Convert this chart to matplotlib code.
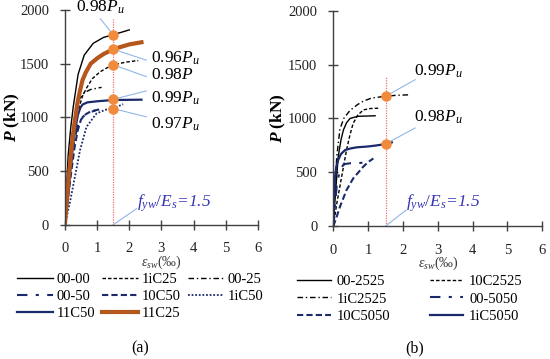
import matplotlib
matplotlib.use("Agg")
import matplotlib.pyplot as plt

plt.rcParams["font.family"] = ["Liberation Serif", "DejaVu Serif"]
plt.rcParams["mathtext.fontset"] = "custom"
plt.rcParams["mathtext.rm"] = "Liberation Serif"
plt.rcParams["mathtext.it"] = "Liberation Serif:italic"
plt.rcParams["mathtext.bf"] = "Liberation Serif:bold"
plt.rcParams["mathtext.bfit"] = "Liberation Serif:bold:italic"

# ---- panel (a) data: strain (per mille) vs load (kN) ----
x_0000 = [0, 0.05, 0.1, 0.18, 0.26, 0.41, 0.6, 0.88, 1.2, 1.5, 2.0]
p_0000 = [0, 330, 640, 900, 1100, 1400, 1580, 1690, 1745, 1770, 1815]

x_1iC25 = [0, 0.1, 0.2, 0.3, 0.41, 0.55, 0.67, 0.85, 1.09, 1.3, 1.5, 1.9, 2.28]
p_1iC25 = [0, 400, 700, 900, 1067, 1200, 1272, 1360, 1424, 1460, 1490, 1515, 1530]

x_0025 = [0, 0.1, 0.2, 0.3, 0.45, 0.6, 0.8, 1.14]
p_0025 = [0, 450, 800, 1000, 1170, 1230, 1260, 1280]

x_0050 = [0, 0.1, 0.2, 0.3, 0.4, 0.5, 0.7, 0.95]
p_0050 = [0, 300, 580, 800, 920, 990, 1040, 1065]

x_10C50 = [0, 0.1, 0.2, 0.3, 0.4, 0.5, 0.65, 0.8, 1.0, 1.1]
p_10C50 = [0, 250, 500, 720, 880, 980, 1030, 1055, 1070, 1075]

x_1iC50 = [0, 0.15, 0.31, 0.47, 0.67, 0.98, 1.25, 1.5, 1.81]
p_1iC50 = [0, 200, 445, 694, 911, 1036, 1070, 1085, 1123]

x_11C50 = [0, 0.1, 0.2, 0.3, 0.4, 0.48, 0.55, 0.7, 1.0, 1.5, 2.38]
p_11C50 = [0, 300, 600, 850, 1020, 1090, 1120, 1140, 1150, 1162, 1165]

x_11C25 = [0, 0.1, 0.2, 0.3, 0.4, 0.47, 0.55, 0.65, 0.8, 1.0, 1.2, 1.5, 2.0, 2.38]
p_11C25 = [0, 380, 700, 950, 1150, 1250, 1350, 1420, 1500, 1550, 1590, 1635, 1680, 1700]

marks_a = [1770, 1635, 1490, 1168, 1082]
labels_a = ["0.98$P_u$", "0.96$P_u$", "0.98$P$", "0.99$P_u$", "0.97$P_u$"]

# ---- panel (b) data ----
x_002525 = [0, 0.05, 0.14, 0.22, 0.29, 0.38, 0.48, 0.7, 1.2]
p_002525 = [0, 250, 645, 800, 893, 960, 1000, 1020, 1025]

x_10C2525 = [0, 0.1, 0.24, 0.38, 0.48, 0.57, 0.7, 0.86, 1.05, 1.29]
p_10C2525 = [0, 210, 460, 707, 850, 955, 1030, 1079, 1092, 1095]

x_1iC2525 = [0, 0.05, 0.1, 0.19, 0.3, 0.48, 0.7, 0.86, 1.1, 1.5, 1.8, 2.2]
p_1iC2525 = [0, 350, 650, 900, 1000, 1075, 1130, 1160, 1190, 1206, 1215, 1220]

x_005050 = [0, 0.05, 0.1, 0.19, 0.3, 0.5, 0.7, 0.86]
p_005050 = [0, 200, 380, 520, 575, 585, 585, 590]

x_10C5050 = [0, 0.1, 0.19, 0.38, 0.57, 0.86, 1.0, 1.15]
p_10C5050 = [0, 90, 180, 335, 443, 552, 595, 629]

x_1iC5050 = [0, 0.02, 0.05, 0.09, 0.14, 0.22, 0.34, 0.5, 0.67, 1.0, 1.2, 1.5, 1.68]
p_1iC5050 = [0, 250, 460, 560, 614, 670, 707, 722, 732, 740, 748, 762, 778]

marks_b = [1206, 764]
labels_b = ["0.99$P_u$", "0.98$P_u$"]

eps_y = 1.5

NAVY = "#1b2a6b"
BROWN = "#b5561d"
ORANGE = "#f28a3c"
LEAD = "#93b6e6"
AXC = "#404040"
TICK_FS = 10.5
LABEL_FS = 12.5
LEG_FS = 10.5


def style_axes(ax, ylab_x, xlab_y):
    ax.set_xlim(0, 6)
    ax.set_ylim(0, 2000)
    ax.set_xticks(range(0, 7))
    ax.set_yticks([0, 500, 1000, 1500, 2000])
    for s in ["top", "right"]:
        ax.spines[s].set_visible(False)
    for s in ["left", "bottom"]:
        ax.spines[s].set_color(AXC)
        ax.spines[s].set_linewidth(1.0)
    ax.tick_params(direction="inout", length=7, width=1, colors=AXC,
                   labelsize=TICK_FS, labelcolor="#222222")
    ax.tick_params(axis="x", pad=9)
    ax.tick_params(axis="y", pad=8)
    ax.set_ylabel(r"$\mathbfit{P}$ (kN)", fontsize=12.5, fontweight="bold")
    ax.yaxis.set_label_coords(ylab_x, 0.5)
    ax.set_xlabel(r"$\varepsilon_{sw}$(‰)", fontsize=10, color="#333333")
    ax.xaxis.set_label_coords(0.5, xlab_y)


def leader(ax, x0, y0, x1, y1):
    ax.plot([x0, x1], [y0, y1], color=LEAD, lw=0.8, clip_on=False, zorder=2)


fig = plt.figure(figsize=(5.5, 3.59), dpi=100)
ax1 = fig.add_axes([0.118, 0.374, 0.351, 0.598])
ax2 = fig.add_axes([0.606, 0.370, 0.380, 0.600])

# ---- (a) ----
h = {}
h["00-00"], = ax1.plot(x_0000, p_0000, color="black", lw=1.0)
h["1iC25"], = ax1.plot(x_1iC25, p_1iC25, color="black", lw=1.0, dashes=(2.5, 1.5))
h["00-25"], = ax1.plot(x_0025, p_0025, color="black", lw=1.0, dashes=(4, 2, 1, 2))
h["00-50"], = ax1.plot(x_0050, p_0050, color=NAVY, lw=1.5, dashes=(5, 4, 1.5, 4))
h["10C50"], = ax1.plot(x_10C50, p_10C50, color=NAVY, lw=1.5, dashes=(3, 1.5))
h["1iC50"], = ax1.plot(x_1iC50, p_1iC50, color=NAVY, lw=1.3, dashes=(1, 1))
h["11C50"], = ax1.plot(x_11C50, p_11C50, color=NAVY, lw=1.6)
h["11C25"], = ax1.plot(x_11C25, p_11C25, color=BROWN, lw=3.0)

ax1.plot([eps_y, eps_y], [0, 1920], color="#f07070", lw=0.9,
         dashes=(1, 1), zorder=1)
ax1.plot([eps_y] * len(marks_a), marks_a, "o", color=ORANGE, ms=6.5, zorder=5)

# callouts
leader(ax1, eps_y, marks_a[0], 1.1, 1920)
ax1.text(1.09, 2025, labels_a[0], ha="center", va="center", fontsize=LABEL_FS)
ends_a = [1533, 1380, 1247, 1005]
texts_a = [1550, 1393, 1182, 937]
for m, e, t, lab in zip(marks_a[1:], ends_a, texts_a, labels_a[1:]):
    leader(ax1, eps_y, m, 2.53, e)
    ax1.text(2.69, t, lab, ha="left", va="center", fontsize=LABEL_FS)
leader(ax1, eps_y, 0, 2.23, 150)
ax1.text(2.23, 205, r"$f_{yw}/E_s$=1.5", ha="left", va="center",
         fontsize=LABEL_FS, color="#3535b5", style="italic")

style_axes(ax1, -0.22, -0.135)
order_a = ["00-00", "00-50", "11C50", "1iC25", "10C50", "11C25", "00-25", "1iC50"]
ax1.legend([h[k] for k in order_a], order_a, loc="upper left",
           bbox_to_anchor=(-0.28, -0.195), ncol=3, frameon=False,
           fontsize=LEG_FS, handlelength=2.5, handletextpad=0.25,
           columnspacing=0.45, labelspacing=0.28, borderaxespad=0)

# ---- (b) ----
g = {}
g["00-2525"], = ax2.plot(x_002525, p_002525, color="black", lw=1.0)
g["10C2525"], = ax2.plot(x_10C2525, p_10C2525, color="black", lw=1.0, dashes=(2.5, 1.5))
g["1iC2525"], = ax2.plot(x_1iC2525, p_1iC2525, color="black", lw=1.0, dashes=(4, 2, 1, 2))
g["00-5050"], = ax2.plot(x_005050, p_005050, color=NAVY, lw=1.5, dashes=(5, 4, 1.5, 4))
g["10C5050"], = ax2.plot(x_10C5050, p_10C5050, color=NAVY, lw=1.5, dashes=(3, 1.5))
g["1iC5050"], = ax2.plot(x_1iC5050, p_1iC5050, color=NAVY, lw=1.6)

ax2.plot([eps_y, eps_y], [0, 1390], color="#f07070", lw=0.9,
         dashes=(1, 1), zorder=1)
ax2.plot([eps_y] * len(marks_b), marks_b, "o", color=ORANGE, ms=6.5, zorder=5)

leader(ax2, eps_y, marks_b[0], 2.35, 1360)
ax2.text(2.33, 1440, labels_b[0], ha="left", va="center", fontsize=LABEL_FS)
leader(ax2, eps_y, marks_b[1], 2.35, 912)
ax2.text(2.33, 1014, labels_b[1], ha="left", va="center", fontsize=LABEL_FS)
leader(ax2, eps_y, 0, 2.09, 150)
ax2.text(2.09, 216, r"$f_{yw}/E_s$=1.5", ha="left", va="center",
         fontsize=LABEL_FS, color="#3535b5", style="italic")

style_axes(ax2, -0.215, -0.134)
order_b = ["00-2525", "1iC2525", "10C5050", "10C2525", "00-5050", "1iC5050"]
ax2.legend([g[k] for k in order_b], order_b, loc="upper left",
           bbox_to_anchor=(-0.2, -0.2), ncol=2, frameon=False,
           fontsize=LEG_FS, handlelength=2.3, handletextpad=0.4,
           columnspacing=2.7, labelspacing=0.28, borderaxespad=0)

fig.text(0.255, 0.03, "(a)", ha="center", va="center", fontsize=11.5)
fig.text(0.753, 0.03, "(b)", ha="center", va="center", fontsize=11.5)

fig.savefig("out.png", dpi=100)
